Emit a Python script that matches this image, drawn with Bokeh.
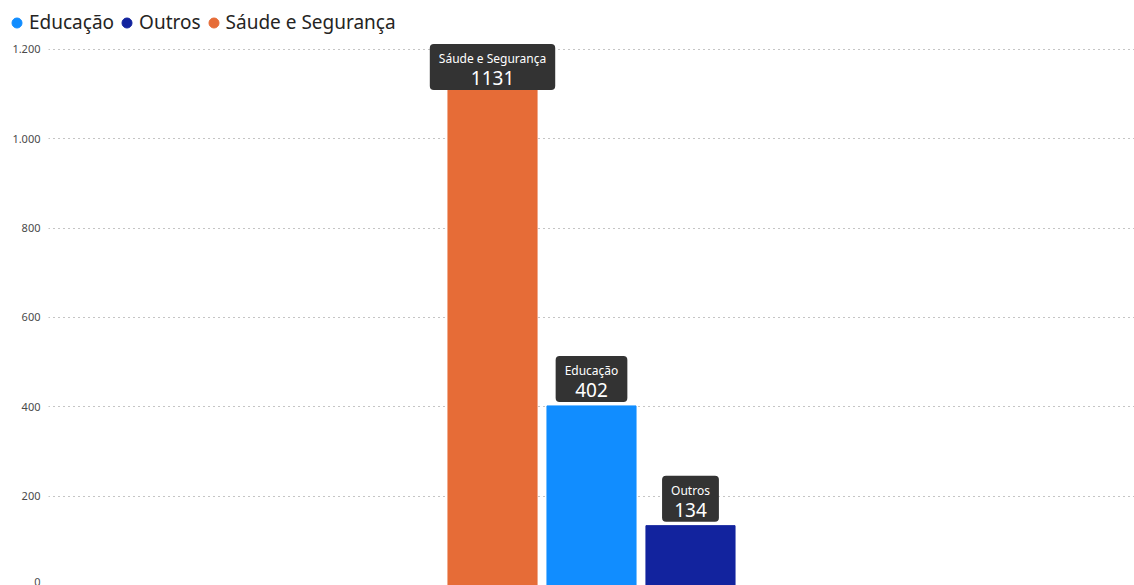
from bokeh.plotting import figure
from bokeh.layouts import column
from bokeh.models import (ColumnDataSource, FactorRange, Range1d, Legend, LegendItem,
                          FixedTicker, CustomJSTickFormatter)
from bokeh.core.properties import value
from bokeh.embed import file_html
from bokeh.resources import INLINE

# ---- data ----
categories = ["Sáude e Segurança", "Educação", "Outros"]
counts = [1131, 402, 134]
colors = ["#E66C37", "#118DFF", "#12239E"]
legend_order = ["Educação", "Outros", "Sáude e Segurança"]
y_ticks = [0, 200, 400, 600, 800, 1000, 1200]

FONT = "Noto Sans"
LABEL_CAP = 1100  # labels near the top are pushed down to stay inside the plot

label_y = [min(c, LABEL_CAP) for c in counts]
source = ColumnDataSource(dict(
    cat=categories, count=counts, color=colors, label_y=label_y,
    value_text=[str(c) for c in counts],
))

W = 1134
LEG_H = 36
H = 585 - LEG_H

# ---- main chart ----
p = figure(
    width=W, height=H,
    x_range=FactorRange(factors=categories, range_padding=2.657, range_padding_units="percent"),
    y_range=Range1d(0, 1229),
    output_backend="svg", toolbar_location=None,
    min_border_left=48, min_border_right=0, min_border_bottom=0, min_border_top=0,
)
p.frame_align = False
p.outline_line_color = None
p.background_fill_color = "white"
p.border_fill_color = "white"

p.xaxis.visible = False
p.xgrid.visible = False
p.ygrid.grid_line_color = "#8a8a8a"
p.ygrid.grid_line_dash = "1 4"
p.ygrid.grid_line_width = 1

ya = p.yaxis[0]
ya.ticker = FixedTicker(ticks=y_ticks)
ya.formatter = CustomJSTickFormatter(
    code="return Math.round(tick).toString().replace(/\\B(?=(\\d{3})+(?!\\d))/g, '.');")
ya.axis_line_color = None
ya.major_tick_line_color = None
ya.minor_tick_line_color = None
ya.major_label_standoff = 2
ya.major_label_text_font = FONT
ya.major_label_text_font_size = "11px"
ya.major_label_text_color = "#4a4a4a"

p.vbar(x="cat", top="count", width=0.9, color="color", source=source)

# data labels: dark rounded box with the category name and the value
p.text(x="cat", y="label_y", text="cat", source=source,
       text_align="center", text_baseline="bottom", y_offset=-4,
       text_color="white", text_font=value(FONT), text_font_size="12px",
       background_fill_color="#333333", border_radius=4,
       padding=dict(left=9, right=9, top=6, bottom=23))
p.text(x="cat", y="label_y", text="value_text", source=source,
       text_align="center", text_baseline="middle", y_offset=-16,
       text_color="white", text_font=value(FONT), text_font_size="19px")

# ---- legend strip ----
lf = figure(width=W, height=LEG_H, x_range=Range1d(0, 1), y_range=Range1d(0, 1),
            x_axis_location=None, y_axis_location=None,
            output_backend="svg", toolbar_location=None,
            min_border_left=0, min_border_right=0, min_border_bottom=0, min_border_top=0)
lf.frame_align = False
lf.grid.visible = False
lf.outline_line_color = None

items = []
for name in legend_order:
    c = colors[categories.index(name)]
    r = lf.scatter(x=[float("nan")], y=[float("nan")], marker="circle", size=11, color=c)
    items.append(LegendItem(label=name, renderers=[r]))

legend = Legend(items=items, orientation="horizontal", location=(4, 1),
                label_text_font=FONT, label_text_font_size="19px",
                label_text_color="#252423", glyph_width=25, glyph_height=25,
                label_height=25, label_standoff=0, spacing=0, padding=0, margin=0,
                border_line_color=None, background_fill_alpha=0)
lf.add_layout(legend, "center")

layout = column(lf, p, spacing=0)
open("out.html", "w").write(file_html(layout, INLINE))
